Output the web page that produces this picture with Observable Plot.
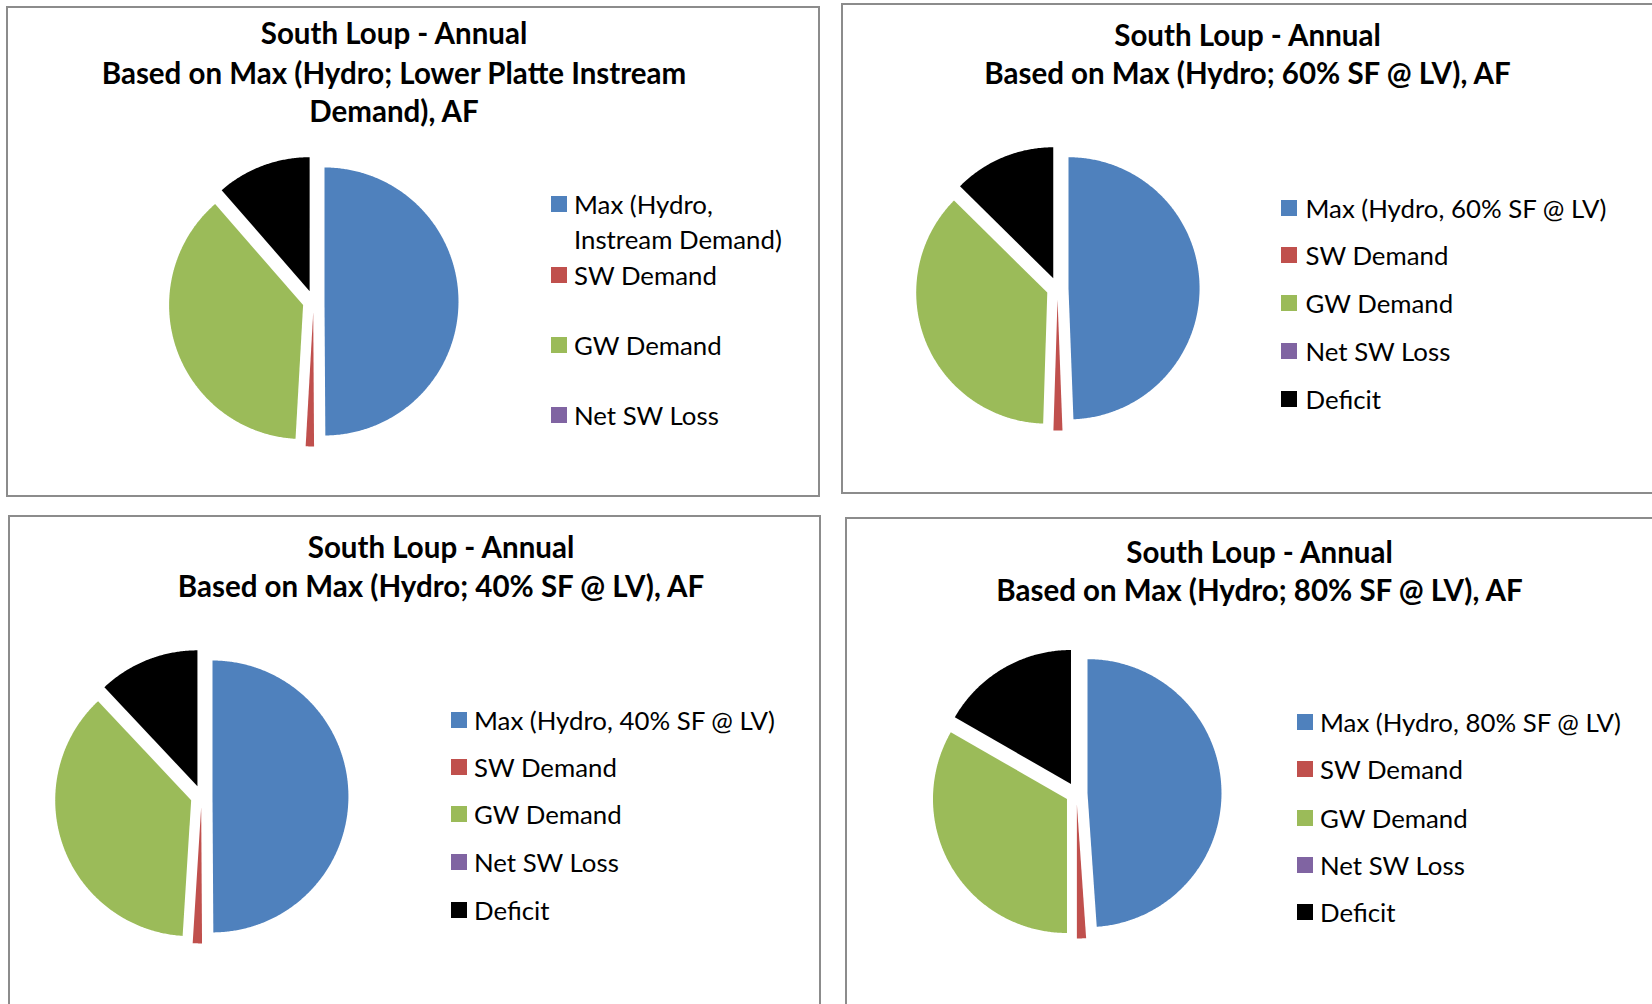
<!DOCTYPE html>
<html>
<head>
<meta charset="utf-8">
<script src="https://cdn.jsdelivr.net/npm/d3@7"></script>
<script src="https://cdn.jsdelivr.net/npm/@observablehq/plot@0.6"></script>
<style>
  html, body { margin: 0; padding: 0; background: #fff; }
  #page { position: relative; width: 1652px; height: 1004px; overflow: hidden; background: #fff;
          font-family: Lato, "Open Sans", sans-serif; color: #000; }
  .frame { position: absolute; border: 2px solid #8c8c8c; box-sizing: border-box; }
  .tl { position: absolute; width: 1000px; text-align: center; font-weight: bold; white-space: nowrap; }
  .lg { position: absolute; white-space: nowrap; }
  .sw { position: absolute; }
  .pie { position: absolute; }
</style>
</head>
<body>
<div id="page"></div>
<script>
// ---------------- data ----------------
const categories = ["Max", "SW Demand", "GW Demand", "Net SW Loss", "Deficit"];
const colors = ["#4F81BD", "#C0504D", "#9BBB59", "#8064A2", "#000000"];

const titleTop = "South Loup - Annual";
const titleInstream = ["Based on Max (Hydro; Lower Platte Instream", "Demand), AF"];
const title60 = ["Based on Max (Hydro; 60% SF @ LV), AF"];
const title40 = ["Based on Max (Hydro; 40% SF @ LV), AF"];
const title80 = ["Based on Max (Hydro; 80% SF @ LV), AF"];

const legendInstream = [["Max (Hydro,", "Instream Demand)"], ["SW Demand"], ["GW Demand"], ["Net SW Loss"]];
const legend60 = [["Max (Hydro, 60% SF @ LV)"], ["SW Demand"], ["GW Demand"], ["Net SW Loss"], ["Deficit"]];
const legend40 = [["Max (Hydro, 40% SF @ LV)"], ["SW Demand"], ["GW Demand"], ["Net SW Loss"], ["Deficit"]];
const legend80 = [["Max (Hydro, 80% SF @ LV)"], ["SW Demand"], ["GW Demand"], ["Net SW Loss"], ["Deficit"]];

// share of annual AF, order = categories
const valuesInstream = [49.9, 1.0, 37.7, 0, 11.4];
const values60 = [49.4, 1.1, 36.9, 0, 12.6];
const values40 = [49.9, 1.1, 37.0, 0, 12.0];
const values80 = [48.9, 1.1, 33.3, 0, 16.7];

// ---------------- layout ----------------
const titleSize = 29.5, titleLH = 38;
const legendSize = 25.8, legendLH = 34;
const swatch = 16;
const explodePx = 11;

const panels = [
  { values: valuesInstream, title: [titleTop, ...titleInstream], legend: legendInstream,
    frame: [6, 6, 820, 497], tcx: 394, tys: [33.2, 73.2, 111.1],
    pie: { cx: 312.6, cy: 300.5, r: 134 },
    lg: { sx: 551, tx: 574, ys: [204.4, 275, 344.5, 415], sub: 35 } },
  { values: values60, title: [titleTop, ...title60], legend: legend60,
    frame: [841, 3, 1672, 494], tcx: 1247.5, tys: [35.3, 73.2],
    pie: { cx: 1057.4, cy: 287.5, r: 131 },
    lg: { sx: 1281, tx: 1305.5, ys: [207.6, 255, 303.4, 350.8, 399.3], sub: 35 } },
  { values: values40, title: [titleTop, ...title40], legend: legend40,
    frame: [8, 515, 821, 1024], tcx: 441, tys: [547.3, 586.3],
    pie: { cx: 201, cy: 796, r: 136 },
    lg: { sx: 451, tx: 474, ys: [719.6, 767, 814.4, 861.8, 910.3], sub: 35 } },
  { values: values80, title: [titleTop, ...title80], legend: legend80,
    frame: [845, 517, 1672, 1024], tcx: 1259.5, tys: [551.5, 589.5],
    pie: { cx: 1075.5, cy: 793, r: 134 },
    lg: { sx: 1297, tx: 1320, ys: [721.7, 769, 817.6, 865, 912.4], sub: 35 } }
];

const page = document.getElementById("page");

function el(cls, style, text) {
  const d = document.createElement("div");
  d.className = cls;
  Object.assign(d.style, style);
  if (text != null) d.textContent = text;
  page.appendChild(d);
  return d;
}

function sliceRows(values, e) {
  const arcs = d3.pie().sort(null).value(d => d)(values);
  const rows = [];
  arcs.forEach((a, i) => {
    if (a.endAngle - a.startAngle <= 0) return;
    const mid = (a.startAngle + a.endAngle) / 2;
    const ox = e * Math.sin(mid), oy = e * Math.cos(mid);
    rows.push({ category: categories[i], x: ox, y: oy });
    const n = Math.max(2, Math.ceil((a.endAngle - a.startAngle) / (Math.PI / 360)));
    for (let k = 0; k <= n; k++) {
      const t = a.startAngle + (a.endAngle - a.startAngle) * k / n;
      rows.push({ category: categories[i], x: ox + Math.sin(t), y: oy + Math.cos(t) });
    }
  });
  return rows;
}

for (const p of panels) {
  const [x0, y0, x1, y1] = p.frame;
  el("frame", { left: x0 + "px", top: y0 + "px", width: (x1 - x0) + "px", height: (y1 - y0) + "px" });

  p.title.forEach((t, i) => {
    el("tl", { left: (p.tcx - 500) + "px", top: (p.tys[i] - titleLH / 2) + "px",
               fontSize: titleSize + "px", lineHeight: titleLH + "px", height: titleLH + "px" }, t);
  });

  const e = explodePx / p.pie.r;
  const ext = 1 + e + 0.03;
  const W = Math.round(2 * ext * p.pie.r);
  const chart = Plot.plot({
    width: W, height: W, margin: 0,
    style: { background: "transparent", overflow: "visible" },
    x: { domain: [-ext, ext], axis: null },
    y: { domain: [-ext, ext], axis: null },
    color: { domain: categories, range: colors },
    marks: [
      Plot.line(sliceRows(p.values, e), {
        x: "x", y: "y", z: "category", fill: "category",
        stroke: "none", curve: "linear-closed", sort: null
      })
    ]
  });
  chart.classList.add("pie");
  chart.style.position = "absolute";
  chart.style.left = (p.pie.cx - W / 2) + "px";
  chart.style.top = (p.pie.cy - W / 2) + "px";
  page.appendChild(chart);

  p.legend.forEach((lines, i) => {
    const y = p.lg.ys[i];
    el("sw", { left: p.lg.sx + "px", top: (y - swatch / 2) + "px", width: swatch + "px", height: swatch + "px",
               background: colors[i] });
    lines.forEach((ln, j) => {
      el("lg", { left: p.lg.tx + "px", top: (y + j * p.lg.sub - legendLH / 2) + "px",
                 fontSize: legendSize + "px", lineHeight: legendLH + "px", height: legendLH + "px" }, ln);
    });
  });
}
</script>
</body>
</html>
